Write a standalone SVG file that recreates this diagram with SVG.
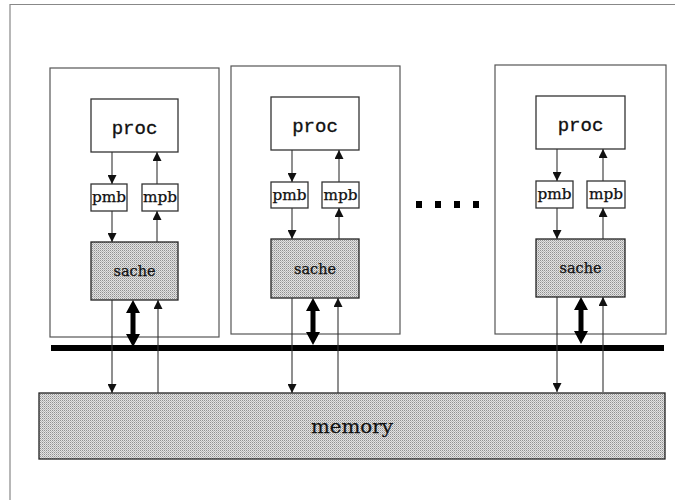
<svg xmlns="http://www.w3.org/2000/svg" width="675" height="500" viewBox="0 0 675 500">
<defs>
<pattern id="stip" width="2" height="2" patternUnits="userSpaceOnUse">
<rect width="2" height="2" fill="#e2e2e2"/>
<rect width="1" height="1" fill="#909090"/>
<rect x="1" y="1" width="1" height="1" fill="#b8b8b8"/>
</pattern>
<marker id="a" viewBox="0 0 9 9" refX="9" refY="4.5" markerWidth="9" markerHeight="9" markerUnits="userSpaceOnUse" orient="auto">
<path d="M0,0 L9,4.5 L0,9 z" fill="#111"/>
</marker>
</defs>
<style>
.frame{fill:none;stroke:#888;stroke-width:1.2}
.panel{fill:#fff;stroke:#555;stroke-width:1.2}
.box{fill:#fff;stroke:#333;stroke-width:1.3}
.shade{fill:url(#stip);stroke:#222;stroke-width:1.3}
.ln{stroke:#333;stroke-width:1.1;fill:none;marker-end:url(#a)}
.thick{fill:#000}
.mono{font-family:"Liberation Mono","Courier New",monospace;font-size:19px;fill:#111;stroke:#111;stroke-width:0.35;text-anchor:middle}
.ser{font-family:"DejaVu Serif","Liberation Serif",serif;fill:#111;stroke:#111;stroke-width:0.25;text-anchor:middle}
</style>
<rect width="675" height="500" fill="#fff"/>
<path class="frame" d="M10,500 L10,4.5 L675,4.5"/>

<g id="panel1">
<rect class="panel" x="50" y="68" width="169" height="269"/>
</g>
<g id="panel2">
<rect class="panel" x="231" y="66" width="169" height="268"/>
</g>
<g id="panel3">
<rect class="panel" x="495" y="65" width="171" height="269"/>
</g>

<g id="bus">
<line x1="51" y1="348" x2="664" y2="348" stroke="#000" stroke-width="6"/>
</g>

<g id="proc1"><rect class="box" x="91" y="99" width="87" height="53"/><text class="mono" x="134.5" y="134">proc</text></g>
<g id="pmb1"><rect class="box" x="91" y="184" width="36" height="27"/><text class="ser" x="109" y="202" font-size="14" textLength="34" lengthAdjust="spacingAndGlyphs">pmb</text></g>
<g id="mpb1"><rect class="box" x="142" y="184" width="36" height="27"/><text class="ser" x="160" y="202" font-size="14" textLength="34" lengthAdjust="spacingAndGlyphs">mpb</text></g>
<g id="sache1"><rect class="shade" x="91" y="242" width="87" height="58"/><text class="ser" x="134.5" y="276" font-size="15" textLength="42" lengthAdjust="spacingAndGlyphs">sache</text></g>

<g id="proc2"><rect class="box" x="271" y="97" width="88" height="53"/><text class="mono" x="315" y="132">proc</text></g>
<g id="pmb2"><rect class="box" x="271" y="182" width="37" height="26"/><text class="ser" x="289.5" y="200" font-size="14" textLength="34" lengthAdjust="spacingAndGlyphs">pmb</text></g>
<g id="mpb2"><rect class="box" x="322" y="182" width="37" height="26"/><text class="ser" x="340.5" y="200" font-size="14" textLength="34" lengthAdjust="spacingAndGlyphs">mpb</text></g>
<g id="sache2"><rect class="shade" x="271" y="239" width="88" height="59"/><text class="ser" x="315" y="274" font-size="15" textLength="42" lengthAdjust="spacingAndGlyphs">sache</text></g>

<g id="proc3"><rect class="box" x="536" y="96" width="89" height="53"/><text class="mono" x="580.5" y="131">proc</text></g>
<g id="pmb3"><rect class="box" x="536" y="181" width="37" height="27"/><text class="ser" x="554.5" y="199" font-size="14" textLength="34" lengthAdjust="spacingAndGlyphs">pmb</text></g>
<g id="mpb3"><rect class="box" x="587" y="181" width="38" height="27"/><text class="ser" x="606" y="199" font-size="14" textLength="34" lengthAdjust="spacingAndGlyphs">mpb</text></g>
<g id="sache3"><rect class="shade" x="536" y="239" width="89" height="58"/><text class="ser" x="580.5" y="273" font-size="15" textLength="42" lengthAdjust="spacingAndGlyphs">sache</text></g>

<g id="dots" fill="#000">
<rect x="416" y="201" width="6" height="7"/>
<rect x="435" y="201" width="6" height="7"/>
<rect x="454" y="201" width="6" height="7"/>
<rect x="473" y="201" width="6" height="7"/>
</g>

<g id="memory"><rect class="shade" x="39" y="393" width="626" height="66"/><text class="ser" x="352" y="433" font-size="19" textLength="82" lengthAdjust="spacingAndGlyphs">memory</text></g>

<g id="connectors">
<line class="ln" x1="112" y1="152" x2="112" y2="184"/>
<line class="ln" x1="112" y1="211" x2="112" y2="242"/>
<line class="ln" x1="157" y1="242" x2="157" y2="211"/>
<line class="ln" x1="157" y1="184" x2="157" y2="152"/>
<line class="ln" x1="112" y1="300" x2="112" y2="393"/>
<line class="ln" x1="158" y1="393" x2="158" y2="300"/>
<path class="thick" d="M133,300 L140,313 L135.5,313 L135.5,334 L140,334 L133,347 L126,334 L130.5,334 L130.5,313 L126,313 Z"/>

<line class="ln" x1="292" y1="150" x2="292" y2="182"/>
<line class="ln" x1="292" y1="208" x2="292" y2="239"/>
<line class="ln" x1="339" y1="239" x2="339" y2="208"/>
<line class="ln" x1="339" y1="182" x2="339" y2="150"/>
<line class="ln" x1="292" y1="298" x2="292" y2="393"/>
<line class="ln" x1="338" y1="393" x2="338" y2="298"/>
<path class="thick" d="M313,298 L320,311 L315.5,311 L315.5,332 L320,332 L313,345 L306,332 L310.5,332 L310.5,311 L306,311 Z"/>

<line class="ln" x1="557" y1="149" x2="557" y2="181"/>
<line class="ln" x1="557" y1="208" x2="557" y2="239"/>
<line class="ln" x1="603" y1="239" x2="603" y2="208"/>
<line class="ln" x1="603" y1="181" x2="603" y2="149"/>
<line class="ln" x1="557" y1="297" x2="557" y2="392"/>
<line class="ln" x1="603" y1="392" x2="603" y2="297"/>
<path class="thick" d="M581,297 L588,310 L583.5,310 L583.5,331 L588,331 L581,344 L574,331 L578.5,331 L578.5,310 L574,310 Z"/>
</g>
</svg>
